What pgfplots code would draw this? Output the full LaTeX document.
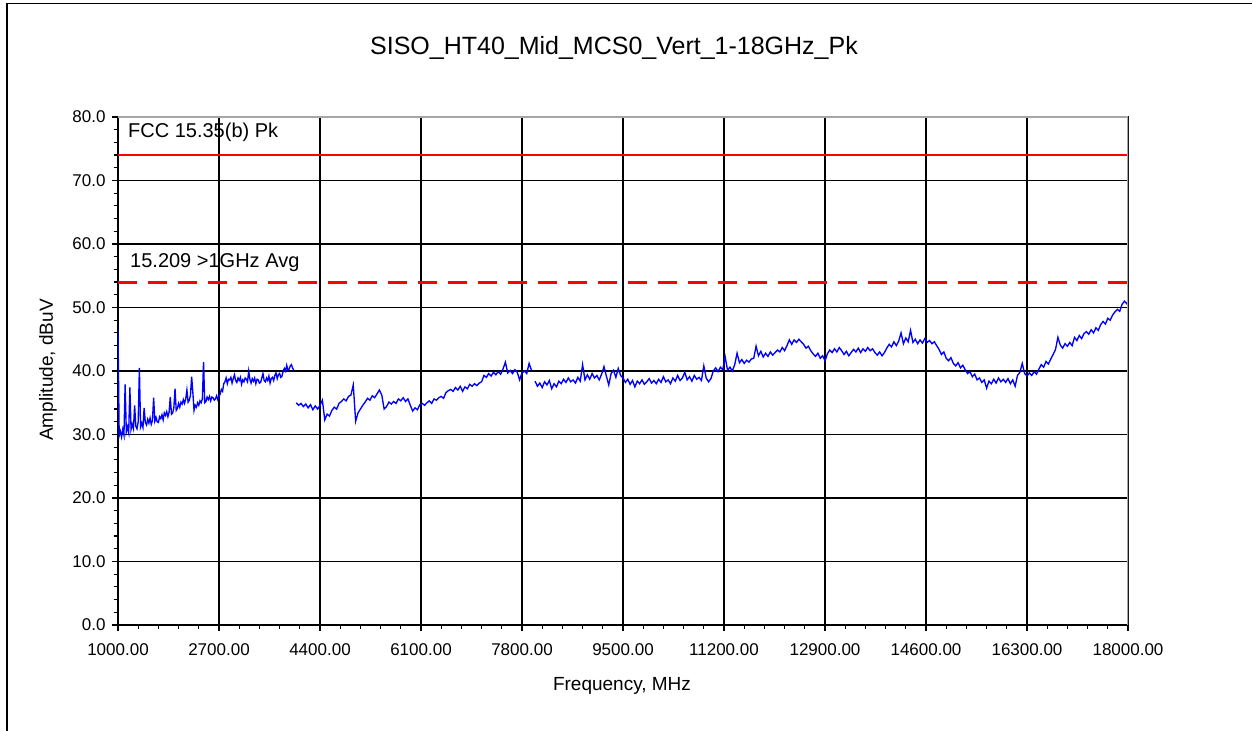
\documentclass[border=0pt]{standalone}
\usepackage{fontspec}
\setmainfont{Liberation Sans}
\usepackage{pgfplots}
\pgfplotsset{compat=1.18}
\definecolor{tr}{HTML}{0000FF}
\definecolor{lim}{HTML}{FF0000}
\begin{document}
\begin{tikzpicture}
\useasboundingbox (-118bp,-106bp) rectangle (1134bp,625bp);
\draw[line width=1.5bp] (-111bp,-106bp) -- (-111bp,621.5bp) -- (1134bp,621.5bp);
\begin{axis}[
 at={(0,0)}, anchor=south west, scale only axis, width=1010bp, height=508bp,
 xmin=1000, xmax=18000, ymin=0, ymax=80,
 xtick={1000,2700,4400,6100,7800,9500,11200,12900,14600,16300,18000},
 ytick={0,10,20,30,40,50,60,70,80},
 scaled x ticks=false, scaled y ticks=false,
 minor x tick num=4, minor y tick num=4,
 tick pos=left, tick align=outside,
 major tick length=6bp, minor tick length=4bp,
 grid=major, major grid style={black, line width=1.8bp},
 axis line style={black, line width=1.6bp},
 tick style={black, line width=1.2bp},
 /pgf/number format/assume math mode=true,
 xticklabel={\pgfmathprintnumber[fixed,fixed zerofill,precision=2,1000 sep={}]{\tick}},
 yticklabel={\pgfmathprintnumber[fixed,fixed zerofill,precision=1,1000 sep={}]{\tick}},
 xticklabel style={font=\fontsize{17bp}{20bp}\selectfont, yshift=-9bp},
 yticklabel style={font=\fontsize{17bp}{20bp}\selectfont, xshift=-3bp},
]
\addplot[lim, line width=2.8bp] coordinates {(1000,74) (18000,74)};
\addplot[lim, line width=3bp, dash pattern=on 19bp off 11bp] coordinates {(1000,54) (18000,54)};
\addplot[tr, line width=1.35bp] table {
1000 46.5
1020 29.8
1040 30.5
1060 29.6
1080 30.8
1100 29.9
1120 37.9
1140 30.4
1160 31.2
1180 30.3
1200 37.4
1220 30.8
1240 31.6
1260 30.9
1280 34.6
1300 31.3
1320 30.9
1340 32.0
1360 40.5
1380 31.2
1400 31.8
1420 31.1
1440 34.2
1460 31.9
1480 31.5
1500 32.4
1520 31.8
1540 32.6
1560 31.6
1580 32.2
1600 35.8
1620 32.1
1640 32.7
1660 32.0
1680 31.9
1700 32.8
1720 32.5
1740 33.1
1760 32.3
1780 33.4
1800 33.0
1820 33.6
1840 32.8
1860 33.5
1880 35.9
1900 33.2
1920 33.4
1940 34.2
1960 37.2
1980 33.8
2000 34.1
2020 34.9
2040 34.3
2060 35.1
2080 34.8
2100 35.5
2120 34.9
2140 35.6
2160 37.0
2180 35.1
2200 35.4
2220 36.2
2240 39.1
2260 36.6
2280 33.8
2300 34.6
2320 34.3
2340 35.0
2360 34.6
2380 35.3
2400 35.0
2420 35.6
2440 41.4
2460 35.0
2480 35.2
2500 35.9
2520 35.5
2540 36.0
2560 35.3
2580 35.9
2600 35.8
2620 35.4
2640 35.6
2660 36.1
2680 35.5
2700 36.0
2720 36.4
2740 37.1
2760 36.8
2780 38.0
2800 38.3
2820 38.9
2840 38.0
2860 38.7
2880 38.6
2900 39.0
2920 38.1
2940 38.8
2960 39.4
2980 38.5
3000 38.2
3020 38.9
3040 38.5
3060 39.0
3080 37.9
3100 38.6
3120 38.3
3140 38.9
3160 38.7
3180 38.3
3200 40.0
3220 38.7
3240 38.1
3260 38.8
3280 38.4
3300 38.9
3320 38.0
3340 38.7
3360 38.6
3380 38.1
3400 38.2
3420 38.9
3440 39.6
3460 38.5
3480 38.3
3500 38.9
3520 38.5
3540 39.2
3560 38.1
3580 38.8
3600 39.0
3620 38.5
3640 39.3
3660 39.7
3680 38.8
3700 39.4
3720 39.6
3740 39.0
3760 39.2
3780 40.0
3800 40.4
3820 40.0
3840 40.9
3860 40.1
3880 40.3
3900 40.8
3920 41.0
3940 40.4
3960 40.2
};
\addplot[tr, line width=1.35bp] table {
4000 35.0
4040 34.6
4080 34.9
4120 34.4
4160 34.8
4200 34.2
4240 34.7
4280 33.9
4320 34.5
4360 34.0
4400 34.6
4440 35.4
4480 32.3
4520 33.2
4560 32.9
4600 33.8
4640 34.3
4680 34.0
4720 34.9
4760 35.2
4800 35.6
4840 35.3
4880 36.0
4920 36.2
4960 37.8
5000 32.1
5040 33.4
5080 34.0
5120 34.6
5160 35.1
5200 35.7
5240 35.4
5280 36.1
5320 35.8
5360 36.4
5400 37.0
5440 36.2
5480 34.0
5520 34.4
5560 35.1
5600 34.8
5640 35.2
5680 34.9
5720 35.6
5760 35.3
5800 35.8
5840 35.2
5880 35.6
5920 34.6
5960 33.7
6000 34.2
6040 33.9
6080 34.7
6120 34.9
6160 34.6
6200 35.0
6240 35.3
6280 34.9
6320 35.6
6360 35.4
6400 35.8
6440 36.0
6480 35.7
6520 36.6
6560 36.9
6600 37.1
6640 36.8
6680 37.4
6720 37.0
6760 37.6
6800 36.8
6840 37.5
6880 37.2
6920 37.9
6960 37.6
7000 38.0
7040 37.7
7080 38.1
7120 38.3
7160 39.3
7200 39.0
7240 39.6
7280 39.2
7320 39.8
7360 39.4
7400 39.9
7440 39.5
7480 40.3
7520 41.4
7560 39.7
7600 40.1
7640 39.6
7680 40.2
7720 39.8
7760 38.6
7800 39.7
7840 40.0
7880 39.6
7920 41.2
7960 40.1
};
\addplot[tr, line width=1.35bp] table {
8020 38.4
8060 37.6
8100 38.1
8140 37.4
8180 38.3
8220 37.8
8260 38.5
8300 37.2
8340 38.0
8380 37.5
8420 38.4
8460 38.0
8500 38.7
8540 38.2
8580 38.9
8620 38.3
8660 38.6
8700 38.1
8740 39.0
8780 38.4
8820 41.0
8860 38.6
8900 39.4
8940 38.7
8980 39.6
9020 38.9
9060 39.3
9100 38.6
9140 39.5
9180 40.7
9220 39.2
9260 37.8
9300 39.6
9340 40.1
9380 39.0
9420 40.4
9460 39.3
9500 38.9
9540 38.2
9580 38.7
9620 37.9
9660 38.5
9700 37.5
9740 38.4
9780 38.0
9820 38.6
9860 37.9
9900 38.3
9940 38.8
9980 38.1
10020 38.5
10060 38.0
10100 38.7
10140 38.2
10180 39.1
10220 38.3
10260 38.6
10300 38.0
10340 38.9
10380 38.4
10420 39.3
10460 38.5
10500 38.9
10540 39.8
10580 38.6
10620 39.1
10660 38.4
10700 39.3
10740 38.7
10780 39.0
10820 38.5
10860 40.8
10900 38.9
10940 38.3
10980 38.8
11020 40.0
11060 40.5
11100 39.9
11140 40.6
11180 40.2
11220 42.2
11260 40.1
11300 40.6
11340 40.0
11380 41.0
11420 42.8
11460 41.3
11500 41.8
11540 41.2
11580 41.7
11620 41.4
11660 41.9
11700 42.0
11740 43.9
11780 42.4
11820 43.1
11860 42.2
11900 42.8
11940 42.3
11980 43.0
12020 42.5
12060 42.9
12100 43.3
12140 43.0
12180 43.7
12220 43.2
12260 44.0
12300 44.9
12340 44.2
12380 44.9
12420 44.5
12460 45.0
12500 44.6
12540 44.2
12580 43.6
12620 43.9
12660 43.2
12700 42.7
12740 42.3
12780 42.8
12820 42.0
12860 42.4
12900 41.6
12940 42.7
12980 43.3
13020 42.9
13060 43.5
13100 43.0
13140 43.7
13180 43.2
13220 42.6
13260 43.1
13300 42.4
13340 42.9
13380 43.4
13420 43.0
13460 43.6
13500 42.9
13540 43.5
13580 43.1
13620 43.7
13660 43.2
13700 43.5
13740 42.9
13780 42.5
13820 43.0
13860 42.4
13900 42.9
13940 43.6
13980 44.2
14020 43.8
14060 44.6
14100 44.0
14140 44.7
14180 46.0
14220 44.3
14260 45.2
14300 44.6
14340 46.4
14380 44.5
14420 45.0
14460 44.3
14500 44.9
14540 44.4
14580 45.1
14620 44.5
14660 44.8
14700 44.3
14740 44.6
14780 44.0
14820 43.4
14860 42.6
14900 43.0
14940 42.0
14980 41.6
15020 42.1
15060 41.2
15100 40.8
15140 41.3
15180 40.5
15220 40.9
15260 40.2
15300 39.6
15340 39.9
15380 39.1
15420 39.5
15460 38.6
15500 38.9
15540 38.2
15580 38.6
15620 37.3
15660 38.4
15700 38.0
15740 38.7
15780 38.1
15820 38.9
15860 38.3
15900 38.7
15940 38.2
15980 38.8
16020 38.0
16060 38.6
16100 37.6
16140 39.3
16180 39.8
16220 41.2
16260 39.6
16300 39.2
16340 39.7
16380 39.3
16420 39.9
16460 39.5
16500 40.3
16540 41.0
16580 40.6
16620 41.5
16660 41.1
16700 41.9
16740 42.6
16780 43.4
16820 45.3
16860 44.1
16900 43.6
16940 44.3
16980 43.9
17020 44.5
17060 44.0
17100 45.3
17140 44.8
17180 45.6
17220 45.1
17260 45.9
17300 46.2
17340 45.8
17380 46.5
17420 46.0
17460 46.8
17500 46.4
17540 47.3
17580 47.8
17620 47.4
17660 48.3
17700 48.0
17740 48.8
17780 49.3
17820 49.7
17860 49.4
17900 50.5
17940 51.0
17980 50.6
18000 50.9
};
\node[anchor=west, inner sep=0pt, font=\fontsize{20bp}{24bp}\selectfont] at (axis cs:1168,77.6) {FCC 15.35(b) Pk};
\node[anchor=west, inner sep=0pt, font=\fontsize{20bp}{24bp}\selectfont] at (axis cs:1202,57.0) {15.209 >1GHz Avg};
\draw[gray!70, line width=1.2bp] (rel axis cs:0,1) -- (rel axis cs:1,1) -- (rel axis cs:1,0);
\end{axis}
\node[anchor=base, inner sep=0pt, font=\fontsize{25bp}{30bp}\selectfont] at (496bp,570.7bp) {SISO\_HT40\_Mid\_MCS0\_Vert\_1-18GHz\_Pk};
\node[font=\fontsize{19bp}{23bp}\selectfont] at (504bp,-61bp) {Frequency, MHz};
\node[font=\fontsize{19bp}{23bp}\selectfont, rotate=90] at (-70bp,255bp) {Amplitude, dBuV};
\end{tikzpicture}
\end{document}
